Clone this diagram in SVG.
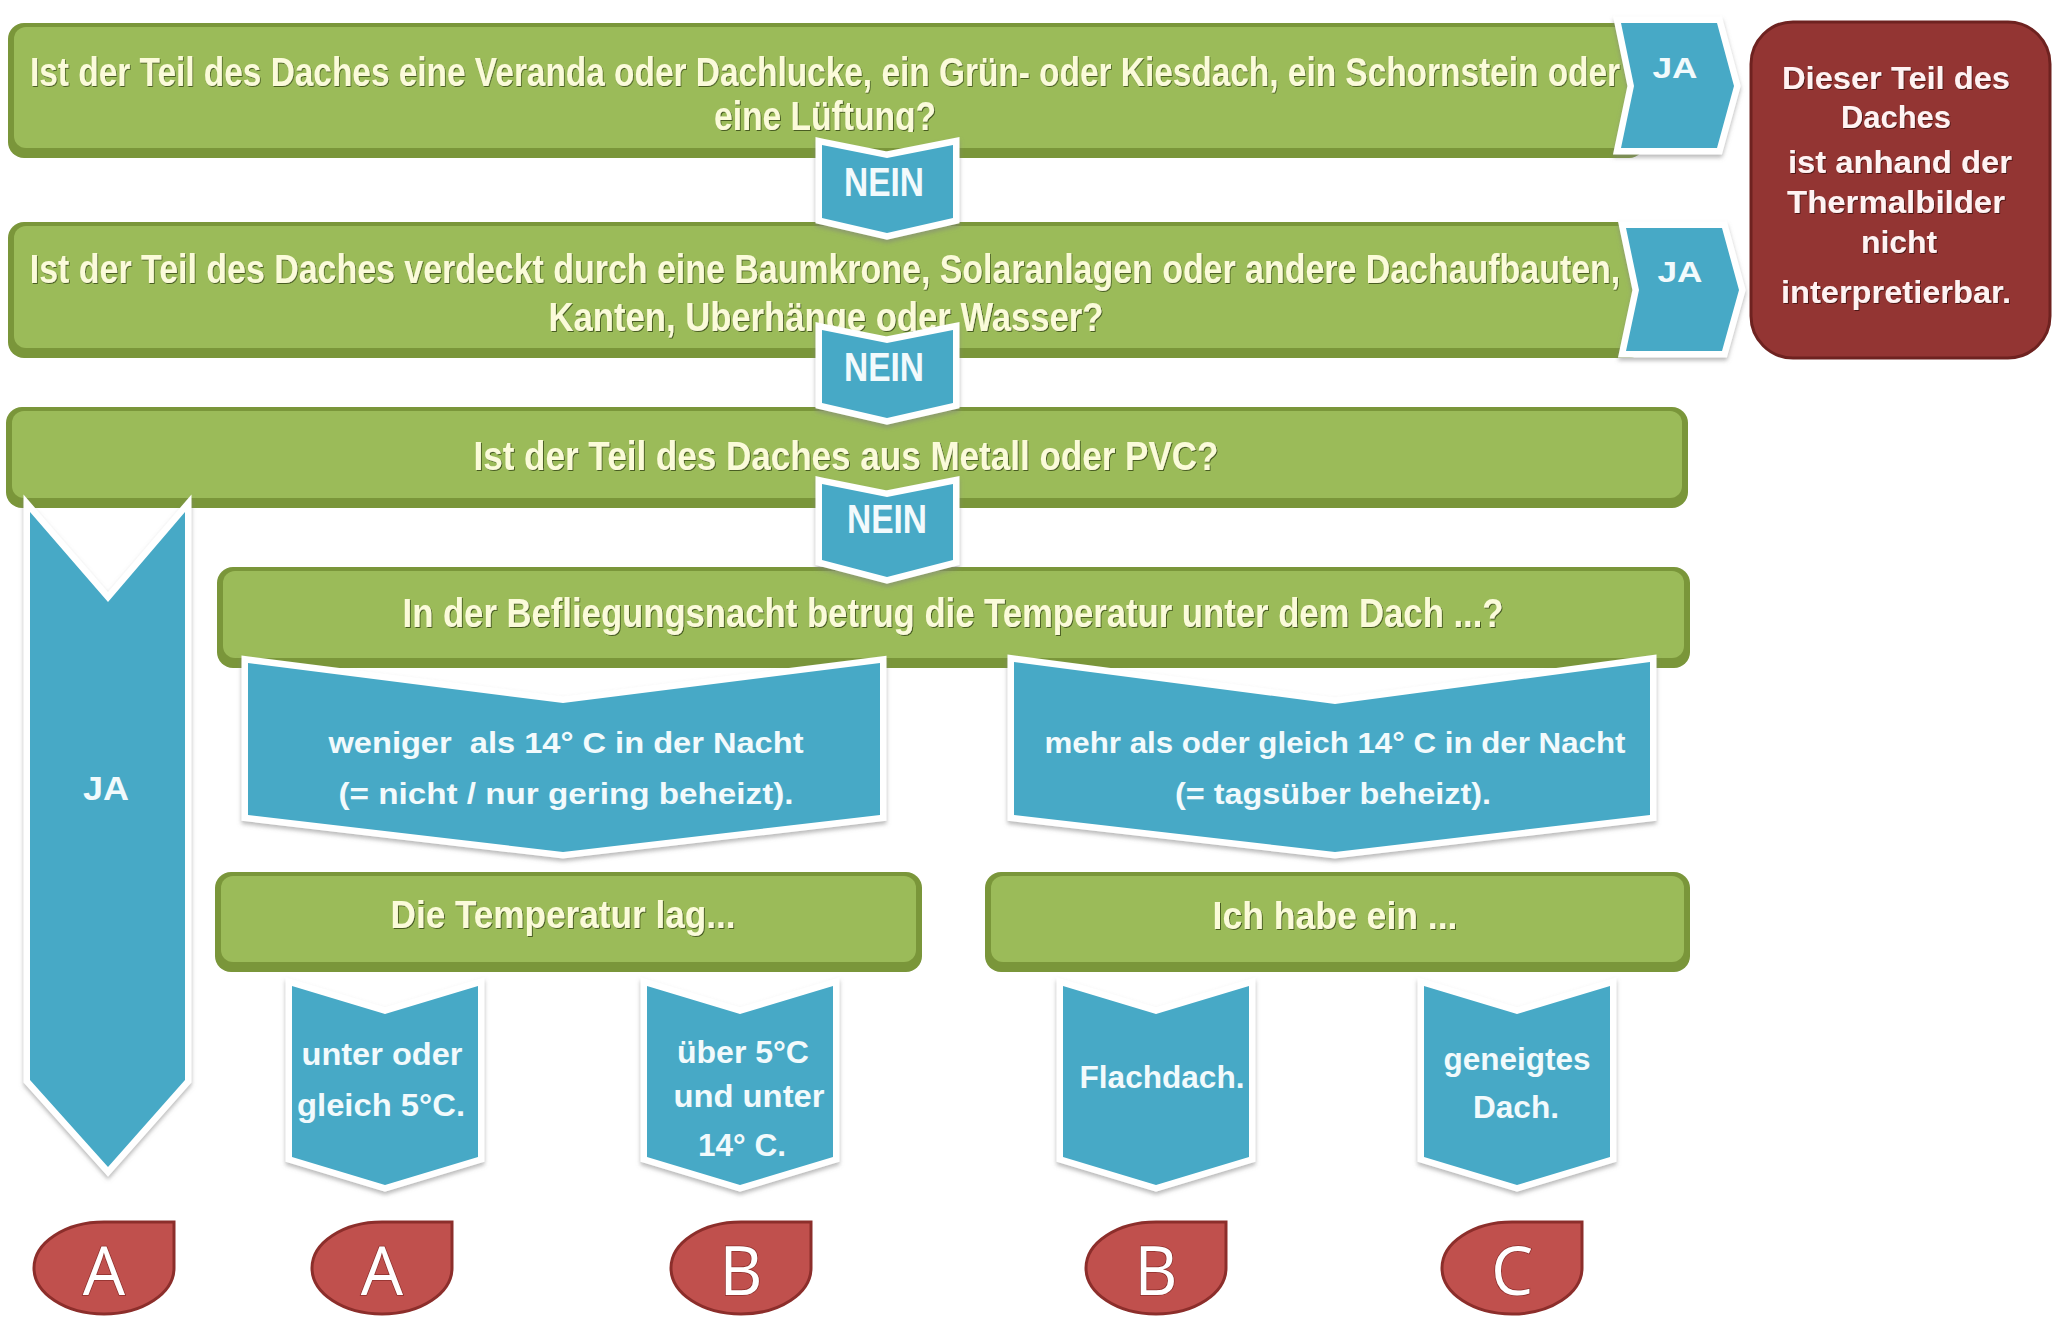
<svg xmlns="http://www.w3.org/2000/svg" width="2072" height="1343" viewBox="0 0 2072 1343">
<defs>
<filter id="sh" x="-10%" y="-10%" width="120%" height="125%"><feDropShadow dx="0" dy="3" stdDeviation="2" flood-color="#7f7f7f" flood-opacity="0.55"/></filter>
<filter id="ts" x="-5%" y="-20%" width="110%" height="150%"><feDropShadow dx="1" dy="1" stdDeviation="0.7" flood-color="#2f3d14" flood-opacity="0.75"/></filter>
<filter id="rs" x="-5%" y="-20%" width="110%" height="150%"><feDropShadow dx="1" dy="1" stdDeviation="0.7" flood-color="#3a0d0c" flood-opacity="0.8"/></filter>
<clipPath id="clip1"><rect x="0" y="95" width="1700" height="37"/></clipPath>
<style>
.go{fill:#7A963A}
.gi{fill:#9BBB59}
.qt{font-family:"Liberation Sans Narrow","Liberation Sans",Arial,sans-serif;font-weight:bold;fill:#FBFBDA;text-anchor:middle;filter:url(#ts)}
.blue{fill:#47A9C6;stroke:#ffffff;stroke-width:13;stroke-linejoin:miter;paint-order:stroke;filter:url(#sh)}
.bt{font-family:"Liberation Sans Narrow","Liberation Sans",Arial,sans-serif;font-weight:bold;fill:#F2FAFC;text-anchor:middle}
.red{fill:#933533;stroke:#6E2220;stroke-width:3}
.rt{font-family:"Liberation Sans Narrow","Liberation Sans",Arial,sans-serif;font-weight:bold;fill:#FFF3F3;text-anchor:middle;font-size:32px;filter:url(#rs)}
.badge{fill:#C0504D;stroke:#8C2E2B;stroke-width:3}
.bl{font-family:"Open Sans","DejaVu Sans",sans-serif;fill:#ffffff;stroke:#8C2E2B;stroke-width:1.5;paint-order:stroke;text-anchor:middle;font-size:67px}
</style>
</defs>
<rect width="2072" height="1343" fill="#ffffff"/>

<g id="q1">
<rect class="go" x="8" y="23" width="1637" height="135" rx="16"/>
<rect class="gi" x="14" y="27" width="1625" height="121" rx="12"/>
<text class="qt" transform="translate(825,86) scale(0.77,1)" x="0" y="0" font-size="40" textLength="2065" lengthAdjust="spacingAndGlyphs">Ist der Teil des Daches eine Veranda oder Dachlucke, ein Grün- oder Kiesdach, ein Schornstein oder</text>
<text class="qt" x="825" y="130" font-size="40" textLength="222" lengthAdjust="spacingAndGlyphs" clip-path="url(#clip1)">eine Lüftung?</text>
</g>

<g id="q2">
<rect class="go" x="8" y="222" width="1637" height="136" rx="16"/>
<rect class="gi" x="14" y="226" width="1625" height="122" rx="12"/>
<text class="qt" transform="translate(825,283) scale(0.8,1)" x="0" y="0" font-size="40" textLength="1988" lengthAdjust="spacingAndGlyphs">Ist der Teil des Daches verdeckt durch eine Baumkrone, Solaranlagen oder andere Dachaufbauten,</text>
<text class="qt" x="826" y="331" font-size="40" textLength="555" lengthAdjust="spacingAndGlyphs">Kanten, Uberhänge oder Wasser?</text>
</g>

<g id="q3">
<rect class="go" x="6" y="407" width="1682" height="101" rx="16"/>
<rect class="gi" x="12" y="411" width="1670" height="87" rx="12"/>
<text class="qt" x="846" y="470" font-size="40" textLength="745" lengthAdjust="spacingAndGlyphs">Ist der Teil des Daches aus Metall oder PVC?</text>
</g>

<g id="q4">
<rect class="go" x="217" y="567" width="1473" height="101" rx="16"/>
<rect class="gi" x="223" y="571" width="1461" height="87" rx="12"/>
<text class="qt" x="953" y="627" font-size="40" textLength="1101" lengthAdjust="spacingAndGlyphs">In der Befliegungsnacht betrug die Temperatur unter dem Dach ...?</text>
</g>

<g id="q5">
<rect class="go" x="215" y="872" width="707" height="100" rx="16"/>
<rect class="gi" x="221" y="876" width="695" height="86" rx="12"/>
<text class="qt" x="563" y="928" font-size="38" textLength="345" lengthAdjust="spacingAndGlyphs">Die Temperatur lag...</text>
</g>

<g id="q6">
<rect class="go" x="985" y="872" width="705" height="100" rx="16"/>
<rect class="gi" x="991" y="876" width="693" height="86" rx="12"/>
<text class="qt" x="1335" y="929" font-size="38" textLength="245" lengthAdjust="spacingAndGlyphs">Ich habe ein ...</text>
</g>

<g id="result">
<rect class="red" x="1751" y="22" width="299" height="336" rx="42"/>
<text class="rt" x="1896" y="89" textLength="228" lengthAdjust="spacingAndGlyphs">Dieser Teil des</text>
<text class="rt" x="1896" y="128" textLength="110" lengthAdjust="spacingAndGlyphs">Daches</text>
<text class="rt" x="1900" y="173" textLength="224" lengthAdjust="spacingAndGlyphs">ist anhand der</text>
<text class="rt" x="1896" y="213" textLength="218" lengthAdjust="spacingAndGlyphs">Thermalbilder</text>
<text class="rt" x="1899" y="253" textLength="76" lengthAdjust="spacingAndGlyphs">nicht</text>
<text class="rt" x="1896" y="303" textLength="230" lengthAdjust="spacingAndGlyphs">interpretierbar.</text>
</g>

<g id="connectors">
<g id="ja1">
<path class="blue" d="M1621,23 L1717,23 L1734,86 L1717,148 L1621,148 L1634,86 Z"/>
<text class="bt" x="1675" y="78" font-size="30" textLength="45" lengthAdjust="spacingAndGlyphs">JA</text>
</g>
<g id="ja2">
<path class="blue" d="M1626,228 L1722,228 L1739,290 L1722,351 L1626,351 L1639,290 Z"/>
<text class="bt" x="1680" y="282" font-size="30" textLength="45" lengthAdjust="spacingAndGlyphs">JA</text>
</g>
<g id="nein1">
<path class="blue" d="M822,145 L887,158 L953,145 L953,218 L887,233 L822,218 Z"/>
<text class="bt" x="884" y="196" font-size="40" textLength="80" lengthAdjust="spacingAndGlyphs">NEIN</text>
</g>
<g id="nein2">
<path class="blue" d="M822,330 L887,343 L953,330 L953,403 L887,418 L822,403 Z"/>
<text class="bt" x="884" y="381" font-size="40" textLength="80" lengthAdjust="spacingAndGlyphs">NEIN</text>
</g>
<g id="nein3">
<path class="blue" d="M822,484 L887,497 L953,484 L953,560 L887,577 L822,560 Z"/>
<text class="bt" x="887" y="533" font-size="40" textLength="80" lengthAdjust="spacingAndGlyphs">NEIN</text>
</g>
<g id="ja3">
<path class="blue" d="M30,512 L108,602 L185,512 L185,1080 L108,1167 L30,1080 Z"/>
<text class="bt" x="106" y="800" font-size="34" textLength="46" lengthAdjust="spacingAndGlyphs">JA</text>
</g>
</g>

<g id="a-low">
<path class="blue" d="M248,663 L563,703 L880,663 L880,815 L563,852 L248,815 Z"/>
<text class="bt" x="566" y="753" font-size="30" textLength="475" lengthAdjust="spacingAndGlyphs" xml:space="preserve">weniger  als 14° C in der Nacht</text>
<text class="bt" x="566" y="804" font-size="30" textLength="455" lengthAdjust="spacingAndGlyphs">(= nicht / nur gering beheizt).</text>
</g>

<g id="a-high">
<path class="blue" d="M1014,662 L1335,704 L1650,662 L1650,815 L1335,852 L1014,815 Z"/>
<text class="bt" x="1335" y="753" font-size="30" textLength="581" lengthAdjust="spacingAndGlyphs">mehr als oder gleich 14° C in der Nacht</text>
<text class="bt" x="1333" y="804" font-size="30" textLength="316" lengthAdjust="spacingAndGlyphs">(= tagsüber beheizt).</text>
</g>

<g id="c1">
<path class="blue" d="M292,986 L385,1014 L478,986 L478,1157 L385,1185 L292,1157 Z"/>
<text class="bt" x="382" y="1065" font-size="31" textLength="161" lengthAdjust="spacingAndGlyphs">unter oder</text>
<text class="bt" x="381" y="1116" font-size="31" textLength="168" lengthAdjust="spacingAndGlyphs">gleich 5°C.</text>
</g>

<g id="c2">
<path class="blue" d="M647,986 L740,1014 L833,986 L833,1157 L740,1185 L647,1157 Z"/>
<text class="bt" x="743" y="1063" font-size="31" textLength="132" lengthAdjust="spacingAndGlyphs">über 5°C</text>
<text class="bt" x="749" y="1107" font-size="31" textLength="151" lengthAdjust="spacingAndGlyphs">und unter</text>
<text class="bt" x="742" y="1156" font-size="31" textLength="88" lengthAdjust="spacingAndGlyphs">14° C.</text>
</g>

<g id="c3">
<path class="blue" d="M1063,986 L1156,1014 L1249,986 L1249,1157 L1156,1185 L1063,1157 Z"/>
<text class="bt" x="1162" y="1088" font-size="31" textLength="165" lengthAdjust="spacingAndGlyphs">Flachdach.</text>
</g>

<g id="c4">
<path class="blue" d="M1424,986 L1517,1014 L1610,986 L1610,1157 L1517,1185 L1424,1157 Z"/>
<text class="bt" x="1517" y="1070" font-size="31" textLength="147" lengthAdjust="spacingAndGlyphs">geneigtes</text>
<text class="bt" x="1516" y="1118" font-size="31" textLength="86" lengthAdjust="spacingAndGlyphs">Dach.</text>
</g>

<g id="r1">
<path class="badge" d="M104,1222 L174,1222 L174,1268 A70,46 0 0 1 104,1314 A70,46 0 0 1 34,1268 A70,46 0 0 1 104,1222 Z"/>
<text class="bl" x="104" y="1295">A</text>
</g>
<g id="r2">
<path class="badge" d="M382,1222 L452,1222 L452,1268 A70,46 0 0 1 382,1314 A70,46 0 0 1 312,1268 A70,46 0 0 1 382,1222 Z"/>
<text class="bl" x="382" y="1295">A</text>
</g>
<g id="r3">
<path class="badge" d="M741,1222 L811,1222 L811,1268 A70,46 0 0 1 741,1314 A70,46 0 0 1 671,1268 A70,46 0 0 1 741,1222 Z"/>
<text class="bl" x="741" y="1295">B</text>
</g>
<g id="r4">
<path class="badge" d="M1156,1222 L1226,1222 L1226,1268 A70,46 0 0 1 1156,1314 A70,46 0 0 1 1086,1268 A70,46 0 0 1 1156,1222 Z"/>
<text class="bl" x="1156" y="1295">B</text>
</g>
<g id="r5">
<path class="badge" d="M1512,1222 L1582,1222 L1582,1268 A70,46 0 0 1 1512,1314 A70,46 0 0 1 1442,1268 A70,46 0 0 1 1512,1222 Z"/>
<text class="bl" x="1512" y="1295">C</text>
</g>
</svg>
